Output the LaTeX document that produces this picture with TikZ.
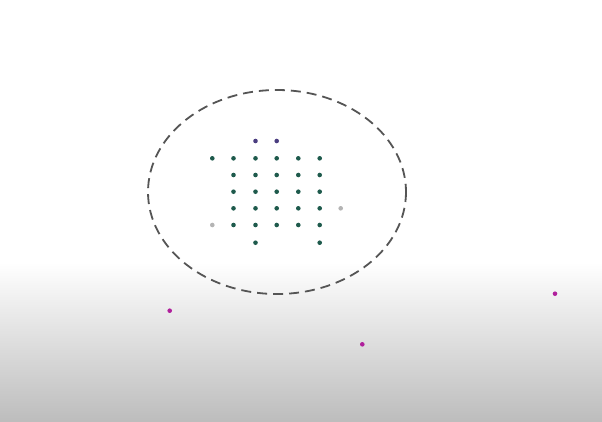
\documentclass[tikz,border=0pt]{standalone}
\begin{document}
\begin{tikzpicture}[x=1pt,y=-1pt,
  dotg/.style={circle,fill=dotgreen,inner sep=0pt,minimum size=4.6pt},
  dotp/.style={circle,fill=dotpurple,inner sep=0pt,minimum size=4.6pt},
  dotgray/.style={circle,fill=dotgrey,inner sep=0pt,minimum size=4.6pt},
  dotm/.style={circle,fill=dotmag,inner sep=0pt,minimum size=4.6pt},
  region/.style={draw=ringgray,line width=1.8pt,dash pattern=on 10pt off 6pt}]
\definecolor{dotgreen}{HTML}{1E5A4C}
\definecolor{dotpurple}{HTML}{4A3D80}
\definecolor{dotgrey}{HTML}{B4B4B4}
\definecolor{dotmag}{HTML}{B0209C}
\definecolor{ringgray}{HTML}{555555}
\definecolor{bgbottom}{HTML}{BDBDBD}
\useasboundingbox (0,0) rectangle (602,421);
\fill[white] (0,0) rectangle (602,265);
\shade[top color=white,bottom color=bgbottom] (0,262) rectangle (602,421);
\draw[region] (277,192) ellipse [x radius=129,y radius=102];
% purple
\node[dotp] (p1) at (255.5,141) {};
\node[dotp] (p2) at (276.7,141) {};
% row 158
\foreach \x [count=\i] in {212.3,233.5,255.5,276.7,298.3,319.7}
  \node[dotg] (ra\i) at (\x,158.3) {};
\foreach \y [count=\j] in {175,191.7,208.3,225}
  \foreach \x [count=\i] in {233.5,255.5,276.7,298.3,319.7}
    \node[dotg] (r\j c\i) at (\x,\y) {};
\node[dotg] (b1) at (255.5,242.7) {};
\node[dotg] (b2) at (319.7,242.7) {};
\node[dotgray] (g1) at (340.7,208.3) {};
\node[dotgray] (g2) at (212.3,225) {};
% magenta
\node[dotm] (m1) at (169.7,310.7) {};
\node[dotm] (m2) at (362.3,344.3) {};
\node[dotm] (m3) at (555,293.7) {};
\end{tikzpicture}
\end{document}
